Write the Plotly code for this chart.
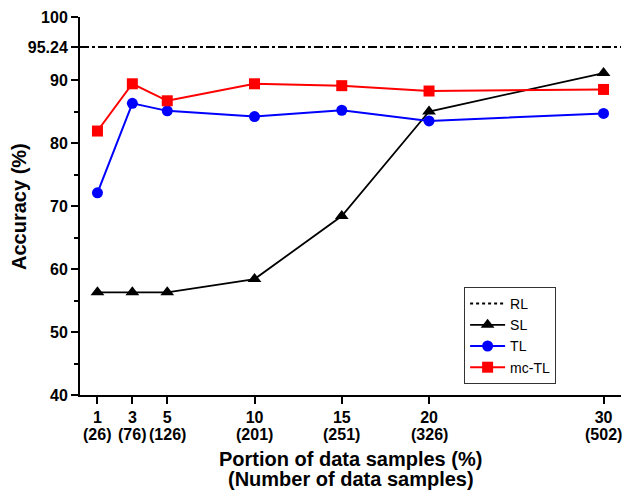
import plotly.graph_objects as go

# Portion of data samples (%) and the matching sample counts
portion = [1, 3, 5, 10, 15, 20, 30]
n_samples = [26, 76, 126, 201, 251, 326, 502]

# Accuracy (%) per learning approach
rl_acc = 95.24
sl_acc = [56.3, 56.3, 56.3, 58.4, 68.4, 85.0, 91.1]
tl_acc = [72.1, 86.3, 85.1, 84.2, 85.2, 83.5, 84.7]
mctl_acc = [81.9, 89.4, 86.7, 89.4, 89.1, 88.25, 88.5]

y_ticks = [40, 50, 60, 70, 80, 90, 95.24, 100]
y_labels = ["40", "50", "60", "70", "80", "90", "95.24", "100"]
x_labels = [str(p) for p in portion]
count_labels = [f"({n})" for n in n_samples]

x_title_lines = ["Portion of data samples (%)", "(Number of data samples)"]
y_title = "Accuracy (%)"

FONT = "Liberation Sans, Arial, sans-serif"
BOLD16 = dict(size=16, family=FONT, color="black", weight="bold")
BOLD20 = dict(size=20, family=FONT, color="black", weight="bold")

fig = go.Figure()

# Reference-learning level drawn as a horizontal line across the plot
fig.add_shape(type="line", xref="paper", x0=0, x1=1, yref="y", y0=rl_acc, y1=rl_acc,
              line=dict(color="black", width=2, dash="dashdot"))

# Legend entry for RL
fig.add_trace(go.Scatter(x=[None], y=[None], mode="lines", name="RL",
                         line=dict(color="black", width=2, dash="dot")))

fig.add_trace(go.Scatter(x=portion, y=sl_acc, mode="lines+markers", name="SL",
                         line=dict(color="black", width=1.8),
                         marker=dict(symbol="triangle-up", size=12, color="black")))
fig.add_trace(go.Scatter(x=portion, y=tl_acc, mode="lines+markers", name="TL",
                         line=dict(color="#0000ff", width=2),
                         marker=dict(symbol="circle", size=11, color="#0000ff")))
fig.add_trace(go.Scatter(x=portion, y=mctl_acc, mode="lines+markers", name="mc-TL",
                         line=dict(color="#ff0000", width=2),
                         marker=dict(symbol="square", size=11, color="#ff0000")))

# Sample counts printed as a second row under each x tick
for p, lab in zip(portion, count_labels):
    fig.add_annotation(x=p, xref="x", y=-0.1058, yref="paper", text=lab,
                       showarrow=False, xanchor="center", yanchor="middle", font=BOLD16)

# Axis titles
for i, line in enumerate(x_title_lines):
    fig.add_annotation(x=0.5, xref="paper", y=-0.1693 - 0.0529 * i, yref="paper",
                       text=line, showarrow=False, xanchor="center", yanchor="middle",
                       font=BOLD20)
fig.add_annotation(x=-0.1128, xref="paper", y=0.5, yref="paper", text=y_title,
                   textangle=-90, showarrow=False, xanchor="center", yanchor="middle",
                   font=BOLD20)

fig.update_layout(
    width=627, height=492,
    margin=dict(l=80, r=6, t=17, b=97, autoexpand=False),
    paper_bgcolor="white", plot_bgcolor="white",
    font=dict(family=FONT, color="black"),
    legend=dict(x=0.71, y=0.2857, xanchor="left", yanchor="top",
                bordercolor="#333333", borderwidth=1, bgcolor="white",
                font=dict(size=14, family=FONT),
                tracegroupgap=0, itemwidth=35),
    xaxis=dict(range=[0, 31], tickvals=portion, ticktext=x_labels, tickangle=0,
               showgrid=False, zeroline=False, showline=True,
               linecolor="black", linewidth=2,
               ticks="outside", ticklen=7, tickwidth=2, tickcolor="black",
               tickfont=BOLD16),
    yaxis=dict(range=[40, 100], tickvals=y_ticks, ticktext=y_labels,
               showgrid=False, zeroline=False, showline=True,
               linecolor="black", linewidth=2,
               ticks="outside", ticklen=7, tickwidth=2, tickcolor="black",
               tickfont=BOLD16,
               minor=dict(tickvals=[45, 55, 65, 75, 85], ticks="outside",
                          ticklen=4, tickwidth=2, tickcolor="black")),
)

fig.write_html("out.html")
